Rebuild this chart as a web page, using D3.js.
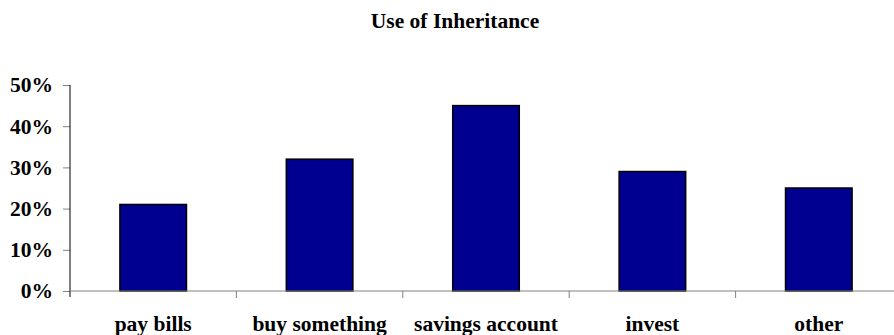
<!DOCTYPE html>
<html>
<head>
<meta charset="utf-8">
<script src="https://cdn.jsdelivr.net/npm/d3@7"></script>
<style>
  body { margin: 0; background: #fff; }
  text { font-family: "Liberation Serif", "Times New Roman", serif; font-weight: bold; fill: #000; }
</style>
</head>
<body>
<div id="chart"></div>
<script>
var width = 894;
var height = 335;

// data
var categories = ["pay bills", "buy something", "savings account", "invest", "other"];
var values = [0.21, 0.32, 0.45, 0.29, 0.25];
var yTicks = [0, 0.1, 0.2, 0.3, 0.4, 0.5];
var title = "Use of Inheritance";

var margin = { top: 85, right: -8, bottom: 44, left: 70 };

var svg = d3.select("#chart").append("svg")
	.attr("width", width)
	.attr("height", height);

var plotW = width - margin.left - margin.right;
var plotH = height - margin.top - margin.bottom;

var x = d3.scaleBand()
	.domain(categories)
	.range([margin.left, margin.left + plotW])
	.paddingInner(0.6)
	.paddingOuter(0.3);

var y = d3.scaleLinear()
	.domain([0, 0.5])
	.range([margin.top + plotH, margin.top]);

// title
svg.append("text")
	.attr("x", 455)
	.attr("y", 28)
	.attr("text-anchor", "middle")
	.style("font-size", "21.5px")
	.text(title);

// bars
svg.append("g").selectAll("rect")
	.data(values)
	.enter()
	.append("rect")
		.attr("x", function(d, i) { return x(categories[i]); })
		.attr("y", function(d) { return y(d); })
		.attr("width", x.bandwidth())
		.attr("height", function(d) { return y(0) - y(d); })
		.style("fill", "#000090")
		.style("stroke", "#000")
		.style("stroke-width", 1.5);

// y axis
var yAxis = d3.axisLeft(y)
	.tickValues(yTicks)
	.tickSize(7)
	.tickPadding(10)
	.tickFormat(d3.format(".0%"));

var gy = svg.append("g")
	.attr("transform", "translate(" + margin.left + ",0)")
	.call(yAxis);
gy.select(".domain").remove();
gy.selectAll(".tick line").style("stroke", "#808080");
gy.selectAll(".tick text").style("font-size", "21.5px");
gy.append("line")
	.attr("x1", 0).attr("x2", 0)
	.attr("y1", y(0.5)).attr("y2", y(0) + 6)
	.style("stroke", "#000");

// x axis: ticks sit on category boundaries
var step = x.step();
var bounds = d3.range(categories.length + 1).map(function(i) { return margin.left + i * step; });

var gx = svg.append("g");
gx.append("line")
	.attr("x1", margin.left).attr("x2", margin.left + plotW)
	.attr("y1", y(0)).attr("y2", y(0))
	.style("stroke", "#808080");
gx.selectAll(".btick")
	.data(bounds.slice(1))
	.enter()
	.append("line")
		.attr("x1", function(d) { return d; })
		.attr("x2", function(d) { return d; })
		.attr("y1", y(0))
		.attr("y2", y(0) + 7)
		.style("stroke", "#808080");
gx.selectAll(".clabel")
	.data(categories)
	.enter()
	.append("text")
		.attr("x", function(d) { return x(d) + x.bandwidth() / 2; })
		.attr("y", y(0) + 40)
		.attr("text-anchor", "middle")
		.style("font-size", "21.5px")
		.text(function(d) { return d; });
</script>
</body>
</html>
